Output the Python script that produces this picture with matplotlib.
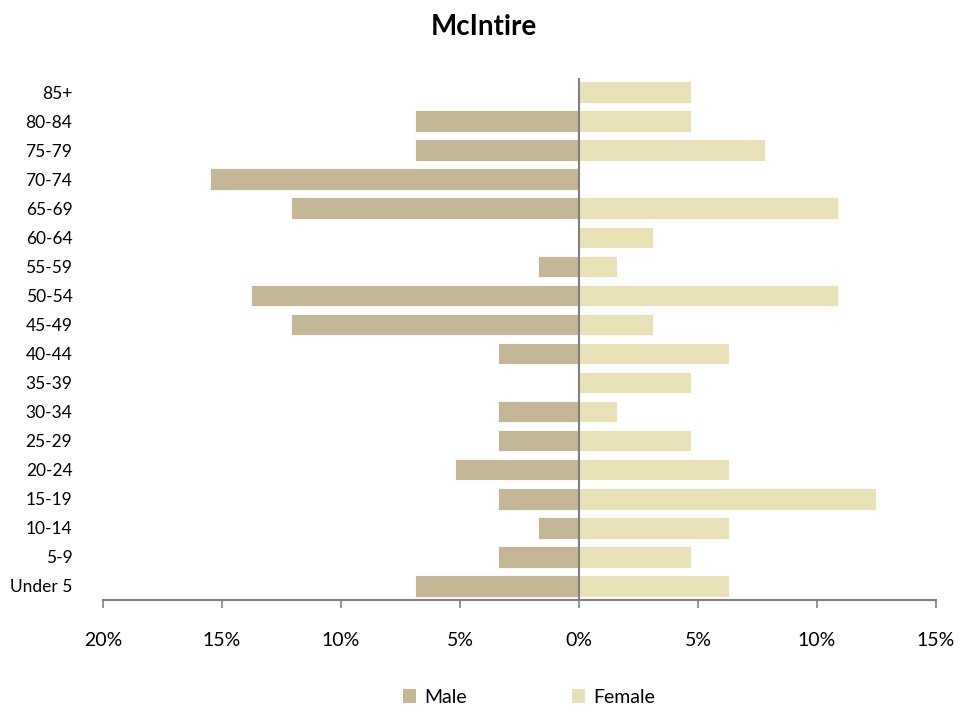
import numpy as np
import matplotlib.pyplot as plt
from matplotlib.patches import Patch
from matplotlib.ticker import FuncFormatter

plt.rcParams['font.family'] = ['Lato', 'DejaVu Sans']

# Age groups, top to bottom as shown in the chart
age_groups = ['85+', '80-84', '75-79', '70-74', '65-69', '60-64', '55-59', '50-54',
              '45-49', '40-44', '35-39', '30-34', '25-29', '20-24', '15-19', '10-14',
              '5-9', 'Under 5']

# Share of population (%)
male_pct = [0.0, 6.9, 6.9, 15.5, 12.1, 0.0, 1.7, 13.8, 12.1, 3.4, 0.0, 3.4, 3.4,
            5.2, 3.4, 1.7, 3.4, 6.9]
female_pct = [4.7, 4.7, 7.8, 0.0, 10.9, 3.1, 1.6, 10.9, 3.1, 6.3, 4.7, 1.6, 4.7,
              6.3, 12.5, 6.3, 4.7, 6.3]

male_color = '#C4B795'
female_color = '#E9E2B6'
axis_gray = '#808080'

fig = plt.figure(figsize=(9.79, 7.13), dpi=100)
ax = fig.add_axes([0.1052, 0.1578, 0.8508, 0.7335])

y = np.arange(len(age_groups))[::-1]
ax.barh(y, [-v for v in male_pct], height=0.74, color=male_color,
        edgecolor='white', linewidth=0.6)
ax.barh(y, female_pct, height=0.74, color=female_color,
        edgecolor='white', linewidth=0.6)

ax.axvline(0, color=axis_gray, linewidth=1.5, zorder=3)

ax.set_xlim(-20, 15)
ax.set_ylim(-0.5, len(age_groups) - 0.5)
ax.set_xticks(np.arange(-20, 16, 5))
ax.xaxis.set_major_formatter(FuncFormatter(lambda v, _: f'{abs(v):.0f}%'))
ax.set_yticks(y)
ax.set_yticklabels(age_groups, fontsize=12.5)

for side in ['top', 'right', 'left']:
    ax.spines[side].set_visible(False)
ax.spines['bottom'].set_color(axis_gray)
ax.spines['bottom'].set_linewidth(1.5)
ax.tick_params(axis='x', direction='out', length=6, width=1.2, color=axis_gray,
               labelsize=14, pad=17)
ax.tick_params(axis='y', length=0, pad=22)

fig.text(0.494, 0.962, 'McIntire', ha='center', va='center', fontsize=20,
         fontweight='bold')

handles = [Patch(facecolor=male_color, label='Male'),
           Patch(facecolor=female_color, label='Female')]
fig.legend(handles=handles, loc='center', bbox_to_anchor=(0.54, 0.022), ncol=2,
           frameon=False, fontsize=14, handlelength=0.7, handleheight=0.7,
           handletextpad=0.4, columnspacing=5.4)

plt.savefig('out.png', dpi=100)
